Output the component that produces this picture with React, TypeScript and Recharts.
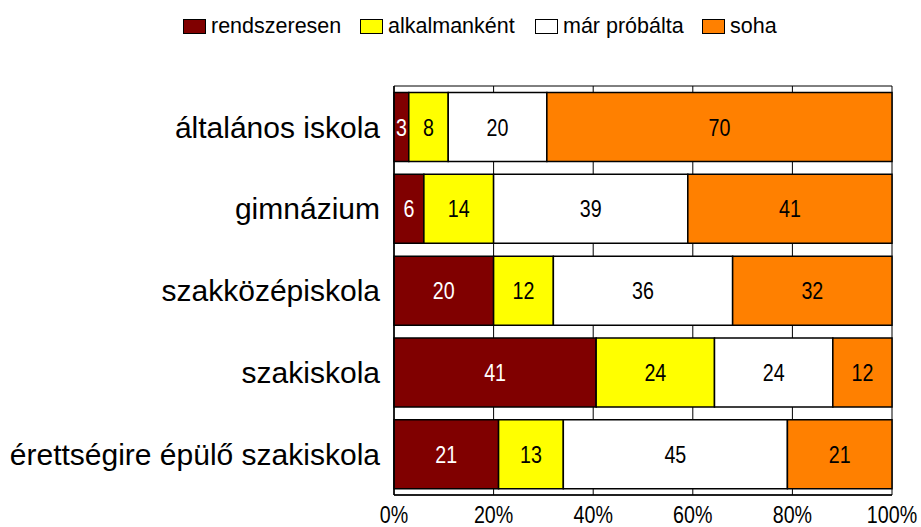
import React from 'react'
import { BarChart, Bar, XAxis, YAxis, CartesianGrid, Legend, LabelList } from 'recharts'

const categories = [
  'általános iskola',
  'gimnázium',
  'szakközépiskola',
  'szakiskola',
  'érettségire épülő szakiskola',
]
const rendszeresen = [3, 6, 20, 41, 21]
const alkalmankent = [8, 14, 12, 24, 13]
const marProbalta = [20, 39, 36, 24, 45]
const soha = [70, 41, 32, 12, 21]
const xTicks = [0, 0.2, 0.4, 0.6, 0.8, 1]

const series = [
  { key: 'rendszeresen', name: 'rendszeresen', color: '#800000', text: '#ffffff' },
  { key: 'alkalmankent', name: 'alkalmanként', color: '#ffff00', text: '#000000' },
  { key: 'marProbalta', name: 'már próbálta', color: '#ffffff', text: '#000000' },
  { key: 'soha', name: 'soha', color: '#ff8000', text: '#000000' },
]
const legendLeft = [183, 360, 535, 702]

const data = categories.map((name, i) => ({
  name,
  rendszeresen: rendszeresen[i],
  alkalmankent: alkalmankent[i],
  marProbalta: marProbalta[i],
  soha: soha[i],
}))

const FONT = "'Liberation Sans', Arial, sans-serif"
// no narrow face installed, so squeeze the regular one
const SQUEEZE = 'scale(0.82,1)'

function XTick({ x, y, payload }: any) {
  return (
    <g transform={`translate(${x},${y})`}>
      <text transform={SQUEEZE} textAnchor="middle" dy="0.71em" fill="#000" fontSize={24} fontFamily={FONT}>
        {`${Math.round(payload.value * 100)}%`}
      </text>
    </g>
  )
}

function makeBarLabel(color: string) {
  return function BarLabel({ x, y, width, height, value }: any) {
    const cx = Number(x) + Number(width) / 2
    const cy = Number(y) + Number(height) / 2
    return (
      <g transform={`translate(${cx},${cy})`}>
        <text transform={SQUEEZE} textAnchor="middle" dy="0.355em" fill={color} fontSize={24} fontFamily={FONT}>
          {value}
        </text>
      </g>
    )
  }
}

function LegendBox() {
  return (
    <div style={{ position: 'relative', width: 921, height: 30, fontFamily: FONT, fontSize: 21.5 }}>
      {series.map((s, i) => (
        <div
          key={s.key}
          style={{ position: 'absolute', left: legendLeft[i], top: 0, display: 'flex', alignItems: 'center', whiteSpace: 'nowrap' }}
        >
          <span
            style={{
              display: 'inline-block',
              width: 21,
              height: 13,
              background: s.color,
              border: '1.5px solid #000',
              marginRight: 5,
            }}
          />
          <span style={{ color: '#000' }}>{s.name}</span>
        </div>
      ))}
    </div>
  )
}

export default function App() {
  return (
    <div style={{ width: 921, height: 527 }}>
      <style>{'html,body{margin:0;padding:0;overflow:hidden}.recharts-surface{overflow:visible}'}</style>
      <BarChart
        width={921}
        height={527}
        data={data}
        layout="vertical"
        stackOffset="expand"
        barCategoryGap="8%"
        margin={{ top: 86, right: 29, bottom: 0, left: 0 }}
      >
        <CartesianGrid
          stroke="#000"
          strokeWidth={1}
          horizontalCoordinatesGenerator={({ offset }: any) => [offset.top, offset.top + offset.height]}
        />
        <XAxis
          type="number"
          domain={[0, 1]}
          ticks={xTicks}
          height={32}
          tickLine={false}
          tickSize={2}
          tickMargin={9}
          axisLine={{ stroke: '#000', strokeWidth: 1.5 }}
          tick={<XTick />}
        />
        <YAxis
          type="category"
          dataKey="name"
          width={394}
          tickLine={false}
          tickSize={2}
          tickMargin={12}
          axisLine={{ stroke: '#000', strokeWidth: 1.5 }}
          tick={{ fill: '#000', fontSize: 30, fontFamily: FONT }}
        />
        <Legend
          layout="horizontal"
          verticalAlign="middle"
          align="center"
          wrapperStyle={{ position: 'absolute', top: 14, left: 0, width: 921 }}
          content={() => <LegendBox />}
        />
        {series.map((s) => (
          <Bar
            key={s.key}
            dataKey={s.key}
            name={s.name}
            stackId="a"
            fill={s.color}
            stroke="#000"
            strokeWidth={1.5}
            isAnimationActive={false}
          >
            <LabelList dataKey={s.key} content={makeBarLabel(s.text)} />
          </Bar>
        ))}
      </BarChart>
    </div>
  )
}
